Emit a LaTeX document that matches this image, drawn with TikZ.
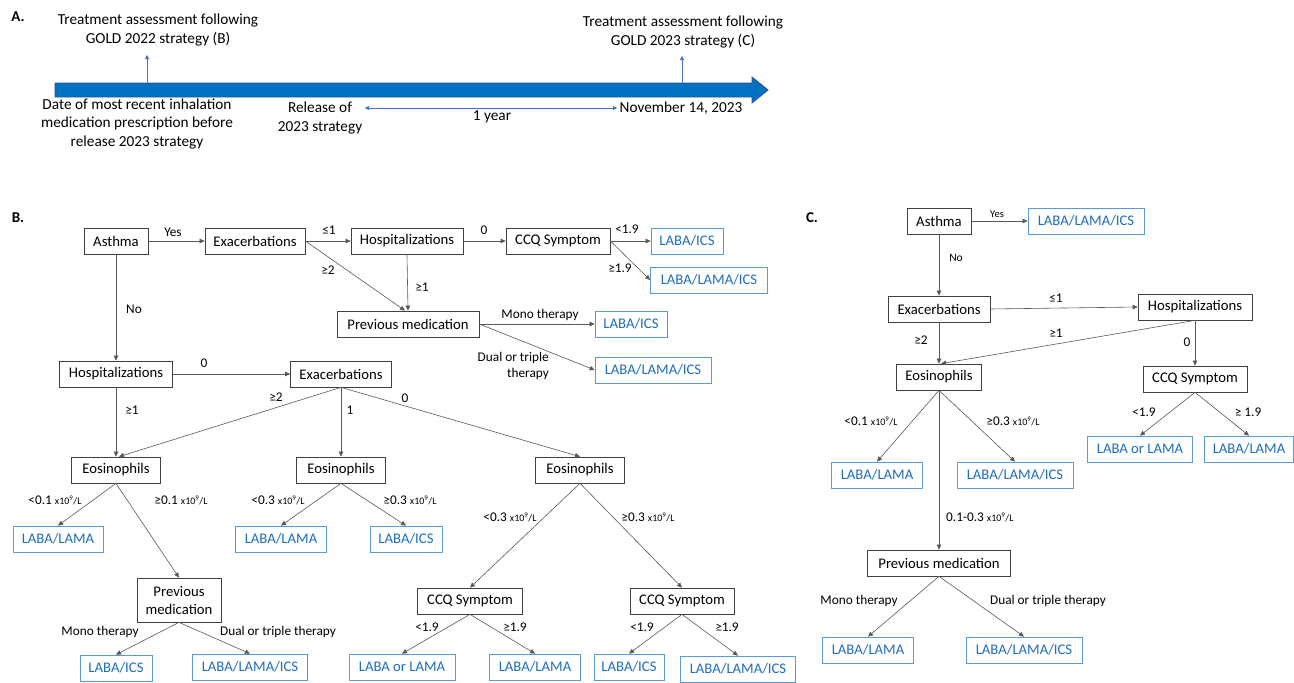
\documentclass[tikz,border=0pt]{standalone}
\usepackage{fontspec}
\setmainfont{Carlito}
\usetikzlibrary{arrows.meta}
\definecolor{boxgray}{HTML}{404040}
\definecolor{linegray}{HTML}{595959}
\definecolor{resblue}{HTML}{5B9BD5}
\definecolor{restext}{HTML}{1F6FBF}
\definecolor{tlblue}{HTML}{0070C0}
\definecolor{tledge}{HTML}{2F5597}
\definecolor{thinblue}{HTML}{4472C4}
\newcommand\xunit{{\fontsize{10}{11}\selectfont x10\textsuperscript{9}/L}}
\begin{document}
\begin{tikzpicture}[x=1pt,y=-1pt,
  box/.style={draw=boxgray, line width=0.7pt, minimum height=26pt, inner sep=1pt, font=\fontsize{14.7}{16}\selectfont, fill=white},
  res/.style={box, draw=resblue, text=restext},
  lbl/.style={font=\fontsize{13.3}{15}\selectfont, inner sep=0pt},
  slbl/.style={font=\fontsize{11.5}{13}\selectfont, inner sep=0pt},
  ttl/.style={font=\fontsize{15}{17}\selectfont\bfseries, inner sep=0pt},
  tl/.style={font=\fontsize{15.3}{19.5}\selectfont, inner sep=0pt, align=center},
  arr/.style={draw=linegray, line width=0.6pt, -{Triangle[length=5pt,width=4.5pt]}},
  tarr/.style={draw=thinblue, line width=0.6pt, -{Triangle[length=4pt,width=4pt]}},
]
\useasboundingbox (0,0) rectangle (1294,683);
\fill[white] (0,0) rectangle (1294,683);

% ---------------- A: timeline
\node[ttl] (tA) at (18,17) {A.};
\fill[tlblue, draw=tledge, line width=0.8pt] (55,83) -- (752,83) -- (752,77) -- (768,90) -- (752,103) -- (752,97) -- (55,97) -- cycle;
\node[tl] (tB) at (158,30) {Treatment assessment following\\GOLD 2022 strategy (B)};
\node[tl] (tC) at (683,32) {Treatment assessment following\\GOLD 2023 strategy (C)};
\coordinate (pB0) at (147,83); \coordinate (pB1) at (147,55);
\coordinate (pC0) at (682,83); \coordinate (pC1) at (682,56);
\draw[tarr] (pB0) -- (pB1);
\draw[tarr] (pC0) -- (pC1);
\node[tl, font=\fontsize{15.3}{18.5}\selectfont] (tD) at (137,124) {Date of most recent inhalation\\medication prescription before\\release 2023 strategy};
\node[tl, font=\fontsize{15.3}{18.5}\selectfont] (tR) at (320,118) {Release of\\2023 strategy};
\node[tl] (tN) at (681,108) {November 14, 2023};
\coordinate (y0) at (365,108); \coordinate (y1) at (617,108);
\draw[tarr, {Triangle[length=4pt,width=4pt]}-{Triangle[length=4pt,width=4pt]}] (y0) -- (y1);
\node[tl] (tY) at (492,117) {1 year};

% ---------------- B
\node[ttl] (tBB) at (18,218) {B.};
\node[box, minimum width=64pt] (bAst) at (116,241) {Asthma};
\node[box, minimum width=100pt] (bExa) at (255,241) {Exacerbations};
\node[box, minimum width=112pt] (bHos) at (407,241) {Hospitalizations};
\node[box, minimum width=104pt] (bCCQ) at (558,241) {CCQ Symptom};
\node[res, minimum width=72pt] (bR1) at (687,241) {LABA/ICS};
\node[res, minimum width=117pt] (bR2) at (709,280) {LABA/LAMA/ICS};
\node[box, minimum width=142pt] (bPm) at (408,324) {Previous medication};
\node[res, minimum width=72pt] (bR3) at (631,324) {LABA/ICS};
\node[res, minimum width=116pt] (bR4) at (653,370) {LABA/LAMA/ICS};
\node[box, minimum width=113pt] (bHos2) at (116,374) {Hospitalizations};
\node[box, minimum width=101pt] (bExa2) at (341,374) {Exacerbations};
\node[box, minimum width=89pt] (bEo1) at (116,470) {Eosinophils};
\node[box, minimum width=89pt] (bEo2) at (341,470) {Eosinophils};
\node[box, minimum width=89pt] (bEo3) at (580,470) {Eosinophils};
\node[res, minimum width=90pt] (bR5) at (58,539) {LABA/LAMA};
\node[box, minimum width=84pt, minimum height=44pt, align=center, font=\fontsize{14.7}{18}\selectfont] (bPm2) at (179,600) {Previous\\medication};
\node[res, minimum width=72pt] (bR6) at (116,668) {LABA/ICS};
\node[res, minimum width=115pt] (bR7) at (250,667) {LABA/LAMA/ICS};
\node[res, minimum width=91pt] (bR8) at (281,539) {LABA/LAMA};
\node[res, minimum width=72pt] (bR9) at (406,539) {LABA/ICS};
\node[box, minimum width=105pt] (bCq1) at (470,601) {CCQ Symptom};
\node[box, minimum width=104pt] (bCq2) at (682,601) {CCQ Symptom};
\node[res, minimum width=106pt] (bR10) at (402,667) {LABA or LAMA};
\node[res, minimum width=91pt] (bR11) at (535,667) {LABA/LAMA};
\node[res, minimum width=70pt] (bR12) at (629,667) {LABA/ICS};
\node[res, minimum width=115pt] (bR13) at (738,669) {LABA/LAMA/ICS};

\draw[arr] (bAst) -- (bExa);
\draw[arr] (bExa) -- (bHos);
\draw[arr] (bHos) -- (bCCQ);
\draw[arr] (bCCQ.east) -- (bR1.west);
\draw[arr] (bCCQ.east) -- (bR2.west);
\draw[arr] (bExa.east) -- ([xshift=-3pt]bPm.north);
\draw[arr] (bHos.south) -- (bPm.north);
\draw[arr] (bPm.east) -- (bR3.west);
\draw[arr] (bPm.east) -- (bR4.west);
\draw[arr] (bAst.south) -- (bHos2.north);
\draw[arr] (bHos2.east) -- (bExa2.west);
\draw[arr] (bHos2.south) -- (bEo1.north);
\draw[arr] (bExa2.south) -- ([xshift=3pt]bEo1.north);
\draw[arr] (bExa2.south) -- (bEo2.north);
\draw[arr] (bExa2.south) -- (bEo3.north);
\draw[arr] (bEo1.south) -- (bR5.north);
\draw[arr] (bEo1.south) -- (bPm2.north);
\draw[arr] (bPm2.south) -- (bR6.north);
\draw[arr] (bPm2.south) -- (bR7.north);
\draw[arr] (bEo2.south) -- (bR8.north);
\draw[arr] (bEo2.south) -- (bR9.north);
\draw[arr] (bEo3.south) -- (bCq1.north);
\draw[arr] (bEo3.south) -- (bCq2.north);
\draw[arr] (bCq1.south) -- (bR10.north);
\draw[arr] (bCq1.south) -- (bR11.north);
\draw[arr] (bCq2.south) -- (bR12.north);
\draw[arr] (bCq2.south) -- (bR13.north);

\node[lbl] (lb1) at (173,232) {Yes};
\node[lbl] (lb2) at (329,230) {≤1};
\node[lbl] (lb3) at (484,230) {0};
\node[lbl] (lb4) at (627,229) {<1.9};
\node[lbl] (lb5) at (620,268) {≥1.9};
\node[lbl] (lb6) at (328,270) {≥2};
\node[lbl] (lb7) at (422,287) {≥1};
\node[lbl] (lb8) at (540,315) {Mono therapy};
\node[lbl, align=right, anchor=east, font=\fontsize{13.3}{15.5}\selectfont] (lb9) at (549,366) {Dual or triple\\therapy};
\node[lbl] (lb10) at (134,309) {No};
\node[lbl] (lb11) at (204,363) {0};
\node[lbl] (lb12) at (132,410) {≥1};
\node[lbl] (lb13) at (276,397) {≥2};
\node[lbl] (lb14) at (350,410) {1};
\node[lbl] (lb15) at (405,398) {0};
\node[lbl] (lb16) at (55,500) {<0.1 \xunit};
\node[lbl] (lb17) at (181,500) {≥0.1 \xunit};
\node[lbl] (lb18) at (100,632) {Mono therapy};
\node[lbl] (lb19) at (278,632) {Dual or triple therapy};
\node[lbl] (lb20) at (278,500) {<0.3 \xunit};
\node[lbl] (lb21) at (410,500) {≥0.3 \xunit};
\node[lbl] (lb22) at (510,517) {<0.3 \xunit};
\node[lbl] (lb23) at (648,517) {≥0.3 \xunit};
\node[lbl] (lb24) at (427,627) {<1.9};
\node[lbl] (lb25) at (515,627) {≥1.9};
\node[lbl] (lb26) at (642,627) {<1.9};
\node[lbl] (lb27) at (727,627) {≥1.9};

% ---------------- C
\node[ttl] (tCC) at (812,218) {C.};
\node[box, minimum width=64pt] (cAst) at (939,221) {Asthma};
\node[res, minimum width=116pt] (cR1) at (1086,221) {LABA/LAMA/ICS};
\node[box, minimum width=102pt] (cExa) at (939,309) {Exacerbations};
\node[box, minimum width=114pt] (cHos) at (1195,307) {Hospitalizations};
\node[box, minimum width=85pt] (cEo) at (939,377) {Eosinophils};
\node[box, minimum width=104pt] (cCq) at (1195,379) {CCQ Symptom};
\node[res, minimum width=105pt] (cR2) at (1140,449) {LABA or LAMA};
\node[res, minimum width=89pt] (cR3) at (1249,449) {LABA/LAMA};
\node[res, minimum width=91pt] (cR4) at (877,475) {LABA/LAMA};
\node[res, minimum width=116pt] (cR5) at (1015,475) {LABA/LAMA/ICS};
\node[box, minimum width=143pt] (cPm) at (939,563) {Previous medication};
\node[res, minimum width=91pt] (cR6) at (868,650) {LABA/LAMA};
\node[res, minimum width=116pt] (cR7) at (1024,650) {LABA/LAMA/ICS};

\draw[arr] (cAst) -- (cR1);
\draw[arr] (cAst) -- (cExa);
\draw[arr] (cExa.east) -- (cHos.west);
\draw[arr] (cExa) -- (cEo);
\draw[arr] (cHos.south) -- ([xshift=2pt]cEo.north);
\draw[arr] (cHos) -- (cCq);
\draw[arr] (cCq.south) -- (cR2.north);
\draw[arr] (cCq.south) -- (cR3.north);
\draw[arr] (cEo.south) -- (cR4.north);
\draw[arr] (cEo.south) -- (cR5.north);
\draw[arr] (cEo) -- (cPm);
\draw[arr] (cPm.south) -- (cR6.north);
\draw[arr] (cPm.south) -- (cR7.north);

\node[slbl, font=\fontsize{10.5}{12}\selectfont] (lc1) at (997,214) {Yes};
\node[slbl] (lc2) at (956,258) {No};
\node[lbl] (lc3) at (1056,298) {≤1};
\node[lbl] (lc4) at (921,340) {≥2};
\node[lbl] (lc5) at (1056,333) {≥1};
\node[lbl] (lc6) at (1187,342) {0};
\node[lbl] (lc7) at (1144,412) {<1.9};
\node[lbl] (lc8) at (1248,412) {≥ 1.9};
\node[lbl] (lc9) at (871,421) {<0.1 \xunit};
\node[lbl] (lc10) at (1013,421) {≥0.3 \xunit};
\node[lbl, anchor=west] (lc11) at (946,517) {0.1-0.3 \xunit};
\node[lbl] (lc12) at (859,601) {Mono therapy};
\node[lbl] (lc13) at (1048,601) {Dual or triple therapy};
\end{tikzpicture}
\end{document}
